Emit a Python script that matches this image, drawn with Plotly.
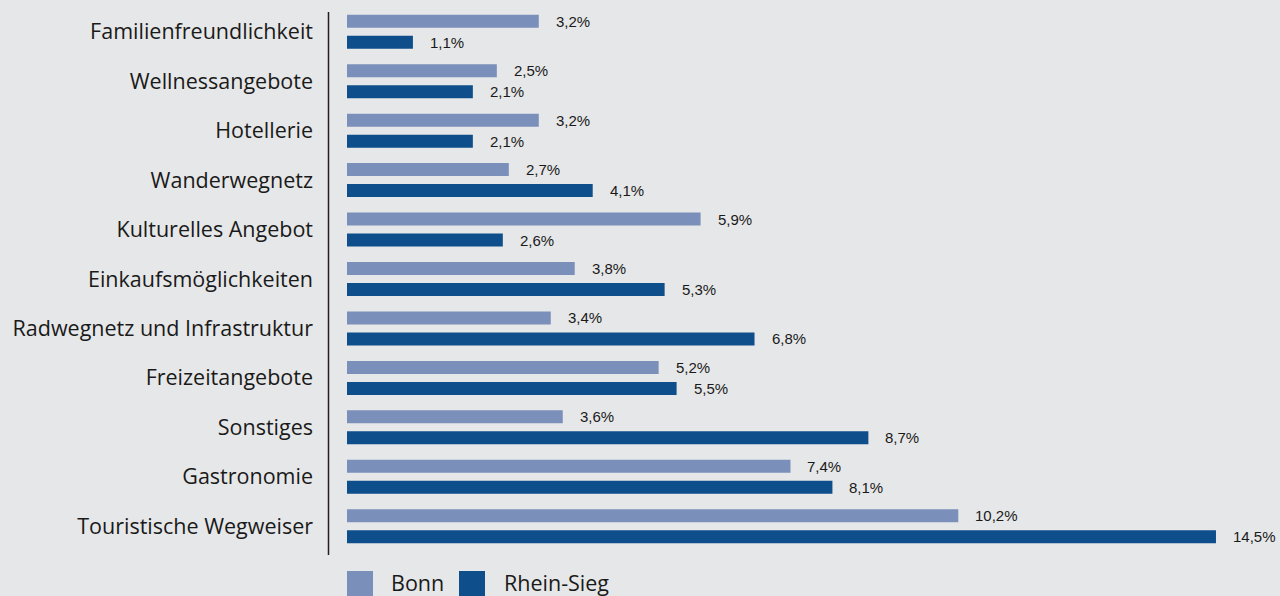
import plotly.graph_objects as go

# Reasons named for the visit, share of answers in percent
categories = [
    "Familienfreundlichkeit",
    "Wellnessangebote",
    "Hotellerie",
    "Wanderwegnetz",
    "Kulturelles Angebot",
    "Einkaufsmöglichkeiten",
    "Radwegnetz und Infrastruktur",
    "Freizeitangebote",
    "Sonstiges",
    "Gastronomie",
    "Touristische Wegweiser",
]
bonn = [3.2, 2.5, 3.2, 2.7, 5.9, 3.8, 3.4, 5.2, 3.6, 7.4, 10.2]
rhein_sieg = [1.1, 2.1, 2.1, 4.1, 2.6, 5.3, 6.8, 5.5, 8.7, 8.1, 14.5]
series_names = ["Bonn", "Rhein-Sieg"]

BONN_COLOR = "#7b8fbb"
RS_COLOR = "#0e4f8b"
BG = "#e6e7e8"
LABEL_FONT = "Open Sans"
VALUE_FONT = "Liberation Sans"

W, H = 1280, 596
M_L, M_R, M_T, M_B = 328, 0, 7, 45


def de_pct(v):
    return f"{v:.1f}".replace(".", ",") + "%"


fig = go.Figure()
for name, vals, color in [(series_names[0], bonn, BONN_COLOR),
                          (series_names[1], rhein_sieg, RS_COLOR)]:
    fig.add_trace(go.Bar(
        y=categories, x=vals, orientation="h", name=name,
        marker=dict(color=color, line=dict(width=0)),
        showlegend=False, hoverinfo="x+y",
    ))

# value labels next to the bar ends
annotations = []
for vals, dy in [(bonn, 10.5), (rhein_sieg, -10.5)]:
    for cat, v in zip(categories, vals):
        annotations.append(dict(
            x=v, y=cat, xref="x", yref="y", text=de_pct(v),
            showarrow=False, xanchor="left", yanchor="middle",
            xshift=15, yshift=dy,
            font=dict(family=VALUE_FONT, size=15, color="#1a1a1a"),
        ))

# legend drawn as large squares with text underneath the chart
plot_w = W - M_L - M_R
plot_h = H - M_T - M_B


def px_x(px):
    return (px - M_L) / plot_w


def px_y(py):
    return (H - M_B - py) / plot_h


shapes = [
    # vertical axis line
    dict(type="line", xref="paper", yref="paper",
         x0=px_x(328.5), x1=px_x(328.5), y0=px_y(555), y1=px_y(12),
         line=dict(color="#231f20", width=1.5)),
]
legend_items = [(series_names[0], BONN_COLOR, 347, 389),
                (series_names[1], RS_COLOR, 459, 502)]
for name, color, sq_x, tx in legend_items:
    shapes.append(dict(type="rect", xref="paper", yref="paper",
                       x0=px_x(sq_x), x1=px_x(sq_x + 26),
                       y0=px_y(597), y1=px_y(571),
                       fillcolor=color, line=dict(width=0)))
    annotations.append(dict(
        x=px_x(tx), y=px_y(582), xref="paper", yref="paper", text=name,
        showarrow=False, xanchor="left", yanchor="middle",
        font=dict(family=LABEL_FONT, size=21.5, color="#1a1a1a"),
    ))

x_per_px = 1 / 59.93
fig.update_layout(
    width=W, height=H,
    margin=dict(l=M_L, r=M_R, t=M_T, b=M_B),
    paper_bgcolor=BG, plot_bgcolor=BG,
    barmode="group", bargap=0.151, bargroupgap=0.381,
    showlegend=False,
    xaxis=dict(range=[-19 * x_per_px, (W - M_R - 347) * x_per_px],
               showgrid=False, zeroline=False, showline=False,
               showticklabels=False, ticks="", fixedrange=True),
    yaxis=dict(categoryorder="array", categoryarray=categories,
               range=[len(categories) - 0.5, -0.5],
               showgrid=False, zeroline=False, showline=False,
               ticks="", ticklabelstandoff=14,
               tickfont=dict(family=LABEL_FONT, size=21.5, color="#1a1a1a"),
               fixedrange=True),
    shapes=shapes,
    annotations=annotations,
)

fig.write_html("out.html")
